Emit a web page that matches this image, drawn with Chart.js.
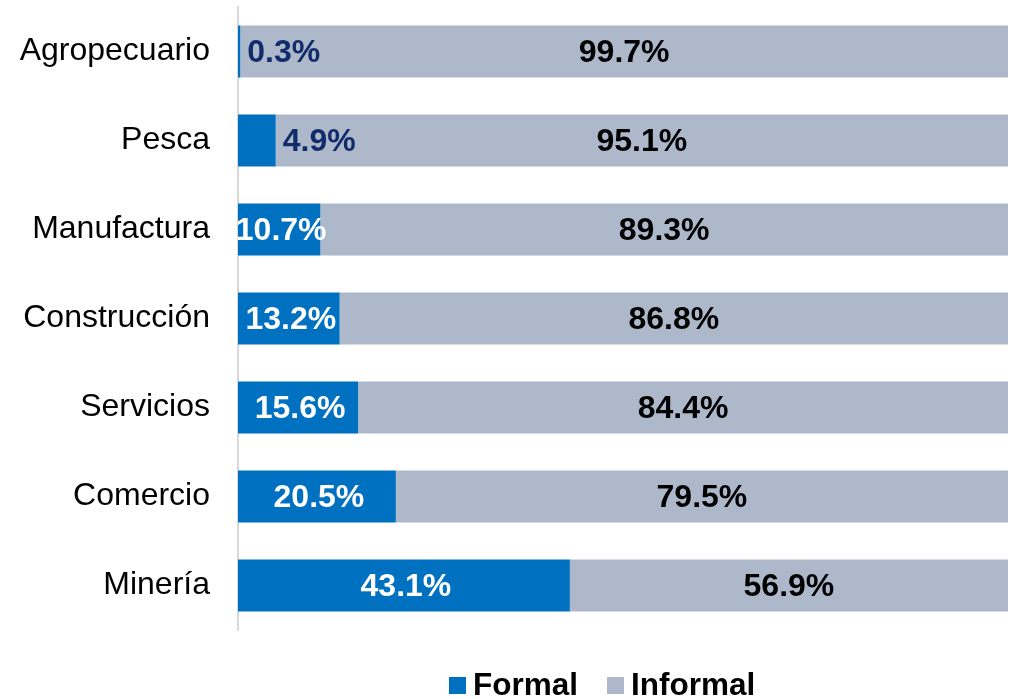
<!DOCTYPE html>
<html>
<head>
<meta charset="utf-8">
<script src="https://cdn.jsdelivr.net/npm/chart.js@4/dist/chart.umd.min.js"></script>
<style>
  html, body { margin: 0; padding: 0; background: #fff; }
  #wrap { width: 1018px; height: 699px; position: relative; }
</style>
</head>
<body>
<div id="wrap"><canvas id="chart"></canvas></div>
<script>
// datos
var sectores = ['Agropecuario', 'Pesca', 'Manufactura', 'Construcción', 'Servicios', 'Comercio', 'Minería'];
var formal = [0.3, 4.9, 10.7, 13.2, 15.6, 20.5, 43.1];
var informal = [99.7, 95.1, 89.3, 86.8, 84.4, 79.5, 56.9];
var seriesNames = ['Formal', 'Informal'];

var FONT = '"Liberation Sans", Arial, sans-serif';
var AZUL = '#0070C0';
var GRIS = '#ADB9CA';
var NAVY = '#102C6A';

// etiquetas de datos sobre las barras
var etiquetasPlugin = {
    id: 'etiquetas',
    afterDatasetsDraw: function(chart) {
        var ctx = chart.ctx;
        ctx.save();
        ctx.font = 'bold 32px ' + FONT;
        ctx.textBaseline = 'middle';
        chart.data.datasets.forEach(function(ds, di) {
            var meta = chart.getDatasetMeta(di);
            meta.data.forEach(function(bar, i) {
                var v = ds.data[i];
                var txt = v.toFixed(1) + '%';
                var left = Math.min(bar.base, bar.x);
                var right = Math.max(bar.base, bar.x);
                if (di === 0 && v < 8) {
                    // fuera de la barra
                    ctx.fillStyle = NAVY;
                    ctx.textAlign = 'left';
                    ctx.fillText(txt, right + 7, bar.y + 2);
                } else {
                    ctx.fillStyle = di === 0 ? '#ffffff' : '#000000';
                    ctx.textAlign = 'center';
                    ctx.fillText(txt, (left + right) / 2 + (di === 0 ? 2 : 0), bar.y + 2);
                }
            });
        });
        ctx.restore();
    }
};

// leyenda abajo
var leyendaPlugin = {
    id: 'leyenda',
    afterDraw: function(chart) {
        var ctx = chart.ctx;
        ctx.save();
        ctx.font = 'bold 31.5px ' + FONT;
        ctx.textBaseline = 'alphabetic';
        ctx.textAlign = 'left';
        var x = 449;
        var yBase = 695;
        chart.data.datasets.forEach(function(ds) {
            ctx.fillStyle = ds.backgroundColor;
            ctx.fillRect(x, 677, 17, 17);
            ctx.fillStyle = '#000000';
            ctx.fillText(ds.label, x + 24, yBase);
            x += 24 + ctx.measureText(ds.label).width + 29;
        });
        ctx.restore();
    }
};

var canvas = document.getElementById('chart');
new Chart(canvas.getContext('2d'), {
    type: 'bar',
    data: {
        labels: sectores,
        datasets: [
            { label: seriesNames[0], data: formal, backgroundColor: AZUL, borderWidth: 0 },
            { label: seriesNames[1], data: informal, backgroundColor: GRIS, borderWidth: 0 }
        ]
    },
    options: {
        indexAxis: 'y',
        responsive: true,
        maintainAspectRatio: false,
        animation: false,
        barPercentage: 0.585,
        categoryPercentage: 1,
        layout: { padding: { top: 7, right: 10, bottom: 69, left: 0 } },
        plugins: {
            legend: { display: false },
            tooltip: { enabled: false }
        },
        scales: {
            x: {
                stacked: true,
                min: 0,
                max: 100,
                display: false
            },
            y: {
                stacked: true,
                afterFit: function(scale) {
                    scale.width = 238;
                    scale.paddingTop = 0;
                    scale.paddingBottom = 0;
                },
                grid: { display: false, drawTicks: false },
                border: { display: true, color: '#D9D9D9', width: 2 },
                ticks: {
                    padding: 28,
                    color: '#000000',
                    font: { family: FONT, size: 32 }
                }
            }
        }
    },
    plugins: [etiquetasPlugin, leyendaPlugin]
});
</script>
</body>
</html>
